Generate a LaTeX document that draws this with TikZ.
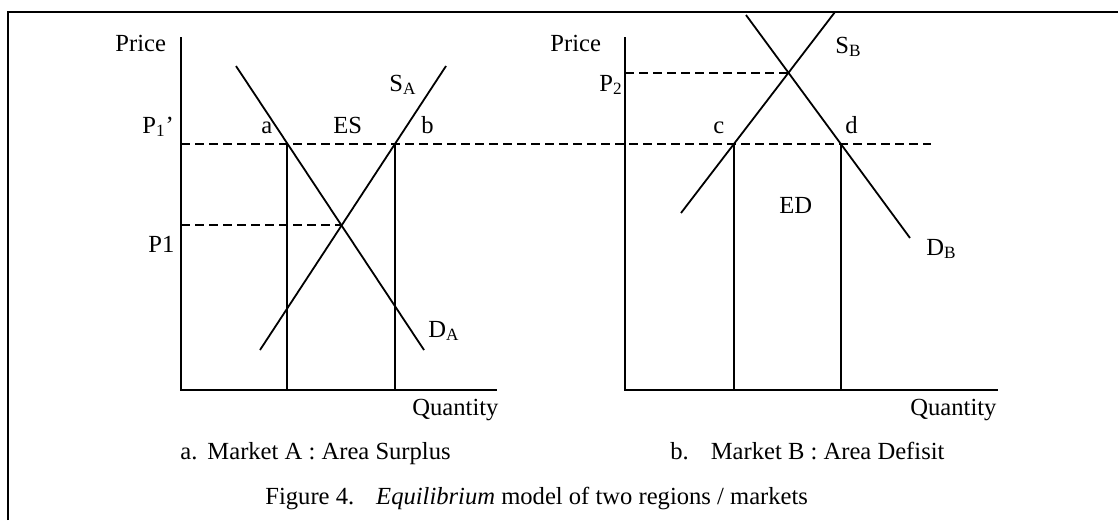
\documentclass[tikz,border=0pt]{standalone}
\usepackage{fontspec}
\setmainfont{Liberation Serif}
\begin{document}
\begin{tikzpicture}[x=0.5pt,y=-0.5pt,
  frame/.style={line width=1pt},
  axis/.style={line width=1pt},
  curve/.style={line width=0.9pt},
  guide/.style={line width=0.8pt, dash pattern=on 4.5pt off 2.5pt},
  lbl/.style={anchor=base west, inner sep=0pt, font=\fontsize{12.3}{14}\selectfont}]
\useasboundingbox (0,0) rectangle (1118,520);
% frame
\coordinate (fbl) at (8,520);
\coordinate (ftl) at (8,12);
\coordinate (ftr) at (1118,12);
\draw[frame] (fbl) -- (ftl) -- (ftr);

% ---------- Market A ----------
\coordinate (Atop) at (181,37);
\coordinate (Aorig) at (181,390);
\coordinate (Aend) at (497,390);
\draw[axis] (Atop) -- (Aorig) -- (Aend);
\coordinate (DA1) at (236,66);
\coordinate (DA2) at (424,350);
\coordinate (SA1) at (446,66);
\coordinate (SA2) at (260,350);
\draw[curve] (DA1) -- (DA2);
\draw[curve] (SA1) -- (SA2);
\coordinate (pa) at (287,144);
\coordinate (pb) at (394.5,144);
\coordinate (eA) at (341.5,225);
\coordinate (pal) at (181,144);
\coordinate (pbr) at (931,144);
\coordinate (p1l) at (181,225);
\draw[guide] (pal) -- (pbr);
\draw[guide] (p1l) -- (eA);
\coordinate (qa) at (287,390);
\coordinate (qb) at (394.5,390);
\draw[axis] (pa) -- (qa);
\draw[axis] (pb) -- (qb);

\node[lbl] (priceA) at (115,51) {Price};
\node[lbl] (p1p) at (142,133) {P\textsubscript{1}’};
\node[lbl] (la) at (261,133) {a};
\node[lbl] (les) at (333,133) {ES};
\node[lbl] (lb) at (421,133) {b};
\node[lbl] (lsa) at (389,91) {S\textsubscript{A}};
\node[lbl] (lp1) at (148,252) {P1};
\node[lbl] (lda) at (428,337) {D\textsubscript{A}};
\node[lbl] (qA) at (412,415) {Quantity};
\node[lbl] (capA) at (180,459) {a.\hspace{5pt}Market A : Area Surplus};

% ---------- Market B ----------
\coordinate (Btop) at (625,37);
\coordinate (Borig) at (625,390);
\coordinate (Bend) at (998,390);
\draw[axis] (Btop) -- (Borig) -- (Bend);
\coordinate (DB1) at (746,15);
\coordinate (DB2) at (910,238);
\coordinate (SB1) at (835,12);
\coordinate (SB2) at (681,213);
\draw[curve] (DB1) -- (DB2);
\draw[curve] (SB1) -- (SB2);
\coordinate (eB) at (788.4,72.7);
\coordinate (p2l) at (625,72.7);
\draw[guide] (p2l) -- (eB);
\coordinate (pc) at (734,144);
\coordinate (pd) at (841,144);
\coordinate (qc) at (734,390);
\coordinate (qd) at (841,390);
\draw[axis] (pc) -- (qc);
\draw[axis] (pd) -- (qd);

\node[lbl] (priceB) at (550,51) {Price};
\node[lbl] (lsb) at (835,53) {S\textsubscript{B}};
\node[lbl] (lp2) at (599,91) {P\textsubscript{2}};
\node[lbl] (lc) at (713,133) {c};
\node[lbl] (ld) at (845,133) {d};
\node[lbl] (led) at (779,213) {ED};
\node[lbl] (ldb) at (926,255) {D\textsubscript{B}};
\node[lbl] (qB) at (910,415) {Quantity};
\node[lbl] (capB) at (670,459) {b.\hspace{11pt}Market B : Area Defisit};

\node[lbl] (fig) at (265,504) {Figure 4.\hspace{11pt}\textit{Equilibrium} model of two regions / markets};
\end{tikzpicture}
\end{document}
